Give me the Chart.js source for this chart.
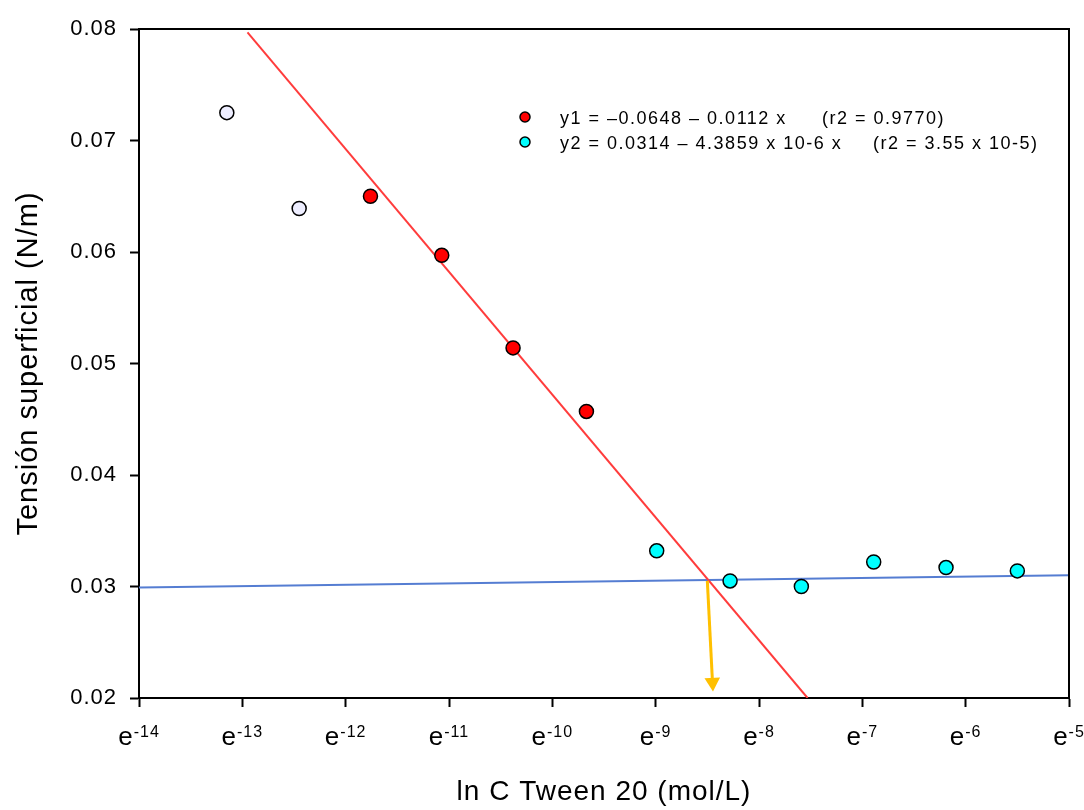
<!DOCTYPE html>
<html>

<head>
    <meta charset="utf-8">
    <title>Tensión superficial - Tween 20</title>
    <style>
        body { margin: 0; background: #fff; }
        #wrap { width: 1084px; height: 810px; }
    </style>
</head>

<body>
    <div id="wrap">
        <canvas id="cmcChart" width="1084" height="810"></canvas>
    </div>

    <script src="https://cdn.jsdelivr.net/npm/chart.js"></script>
    <script>
        // ln C values (x) and surface tension in N/m (y)
        const openX = [-13.15, -12.45];
        const openY = [0.0725, 0.0639];
        const redX = [-11.76, -11.07, -10.38, -9.67];
        const redY = [0.0650, 0.0597, 0.0514, 0.0457];
        const cyanX = [-8.99, -8.28, -7.59, -6.89, -6.19, -5.50];
        const cyanY = [0.0332, 0.0305, 0.0300, 0.0322, 0.0317, 0.0314];

        // fitted lines (end points) and the arrow marking the CMC
        const fit1X = [-12.95, -7.53];
        const fit1Y = [0.0797, 0.0200];
        const fit2X = [-14, -5];
        const fit2Y = [0.0299, 0.0310];
        const arrowX = [-8.50, -8.45];
        const arrowY = [0.0305, 0.0214];

        const legendEq = ['y1 = \u20130.0648 \u2013 0.0112 x', 'y2 = 0.0314 \u2013 4.3859 x 10-6 x'];
        const legendR2 = ['(r2 = 0.9770)', '(r2 = 3.55 x 10-5)'];
        const legendColors = ['#ff0000', '#00ffff'];

        const pts = (xs, ys) => xs.map((x, i) => ({ x: x, y: ys[i] }));

        // box on top and right, plus legend and e^n tick labels
        const extras = {
            id: 'extras',
            beforeDraw(chart) {
                chart.ctx.letterSpacing = '1px';
            },
            afterDraw(chart) {
                const ctx = chart.ctx;
                const a = chart.chartArea;
                ctx.save();
                ctx.strokeStyle = '#000';
                ctx.lineWidth = 2;
                ctx.beginPath();
                ctx.moveTo(a.left, a.top);
                ctx.lineTo(a.right, a.top);
                ctx.lineTo(a.right, a.bottom);
                ctx.stroke();

                // x tick labels as e with superscript exponent
                const xs = chart.scales.x;
                ctx.fillStyle = '#000';
                ctx.textBaseline = 'alphabetic';
                ctx.textAlign = 'left';
                xs.ticks.forEach(t => {
                    const px = xs.getPixelForValue(t.value);
                    const exp = String(t.value);
                    ctx.font = '26px "Liberation Sans", Arial, sans-serif';
                    const wE = ctx.measureText('e').width;
                    ctx.font = '16px "Liberation Sans", Arial, sans-serif';
                    const wX = ctx.measureText(exp).width;
                    const x0 = px - (wE + wX) / 2;
                    ctx.font = '26px "Liberation Sans", Arial, sans-serif';
                    ctx.fillText('e', x0, 745);
                    ctx.font = '16px "Liberation Sans", Arial, sans-serif';
                    ctx.fillText(exp, x0 + wE, 737);
                });

                // legend
                ctx.font = '18px "Liberation Sans", Arial, sans-serif';
                ctx.letterSpacing = '1.5px';
                ctx.textBaseline = 'middle';
                const rows = [{ y: 118, r2x: 822 }, { y: 143, r2x: 873 }];
                rows.forEach((r, i) => {
                    ctx.beginPath();
                    ctx.arc(525, r.y - 1, 5, 0, Math.PI * 2);
                    ctx.fillStyle = legendColors[i];
                    ctx.fill();
                    ctx.lineWidth = 1.5;
                    ctx.strokeStyle = '#000';
                    ctx.stroke();
                    ctx.fillStyle = '#000';
                    ctx.fillText(legendEq[i], 560, r.y + 1);
                    ctx.fillText(legendR2[i], r.r2x, r.y + 1);
                });
                ctx.restore();
            }
        };

        const chart = new Chart(document.getElementById('cmcChart'), {
            type: 'scatter',
            data: {
                datasets: [
                    {
                        label: 'premicelar',
                        data: pts(openX, openY),
                        backgroundColor: '#eeeeff',
                        borderColor: '#000',
                        borderWidth: 1.5,
                        pointRadius: 7,
                    },
                    {
                        label: 'y1',
                        data: pts(redX, redY),
                        backgroundColor: '#ff0000',
                        borderColor: '#000',
                        borderWidth: 1.5,
                        pointRadius: 7,
                    },
                    {
                        label: 'y2',
                        data: pts(cyanX, cyanY),
                        backgroundColor: '#00ffff',
                        borderColor: '#000',
                        borderWidth: 1.5,
                        pointRadius: 7,
                    },
                    {
                        label: 'CMC',
                        data: pts(arrowX, arrowY),
                        showLine: true,
                        borderColor: '#ffc000',
                        backgroundColor: '#ffc000',
                        borderWidth: 3,
                        pointStyle: 'triangle',
                        pointRadius: [0, 9],
                        pointBorderWidth: 0,
                        rotation: 177,
                    },
                    {
                        label: 'fit1',
                        data: pts(fit1X, fit1Y),
                        showLine: true,
                        borderColor: 'rgb(255, 60, 60)',
                        borderWidth: 2,
                        pointRadius: 0,
                    },
                    {
                        label: 'fit2',
                        data: pts(fit2X, fit2Y),
                        showLine: true,
                        borderColor: 'rgb(85, 125, 210)',
                        borderWidth: 2,
                        pointRadius: 0,
                    },
                ],
            },
            options: {
                responsive: false,
                animation: false,
                layout: { padding: { top: 29, right: 15, left: 0, bottom: 0 } },
                plugins: {
                    legend: { display: false },
                    tooltip: { enabled: false },
                },
                scales: {
                    x: {
                        type: 'linear',
                        min: -14,
                        max: -5,
                        afterFit: s => { s.height = 112; },
                        ticks: { stepSize: 1, callback: () => '' },
                        grid: { drawOnChartArea: false, tickLength: 9, tickWidth: 2, tickColor: '#000' },
                        border: { color: '#000', width: 2 },
                        title: {
                            display: true,
                            text: 'ln C Tween 20 (mol/L)',
                            color: '#000',
                            font: { family: '"Liberation Sans", Arial, sans-serif', size: 28, lineHeight: 1.1 },
                            padding: { top: 0, bottom: 2 },
                        },
                    },
                    y: {
                        min: 0.02,
                        max: 0.08,
                        afterFit: s => { s.width = 139; },
                        ticks: {
                            stepSize: 0.01,
                            padding: 13,
                            color: '#000',
                            font: { family: '"Liberation Sans", Arial, sans-serif', size: 22 },
                            callback: v => v.toFixed(2),
                        },
                        grid: { drawOnChartArea: false, tickLength: 9, tickWidth: 2, tickColor: '#000' },
                        border: { color: '#000', width: 2 },
                        title: {
                            display: true,
                            text: 'Tensión superficial (N/m)',
                            color: '#000',
                            font: { family: '"Liberation Sans", Arial, sans-serif', size: 29 },
                            padding: { top: 12, bottom: 0 },
                        },
                    },
                },
            },
            plugins: [extras],
        });
    </script>
</body>

</html>
